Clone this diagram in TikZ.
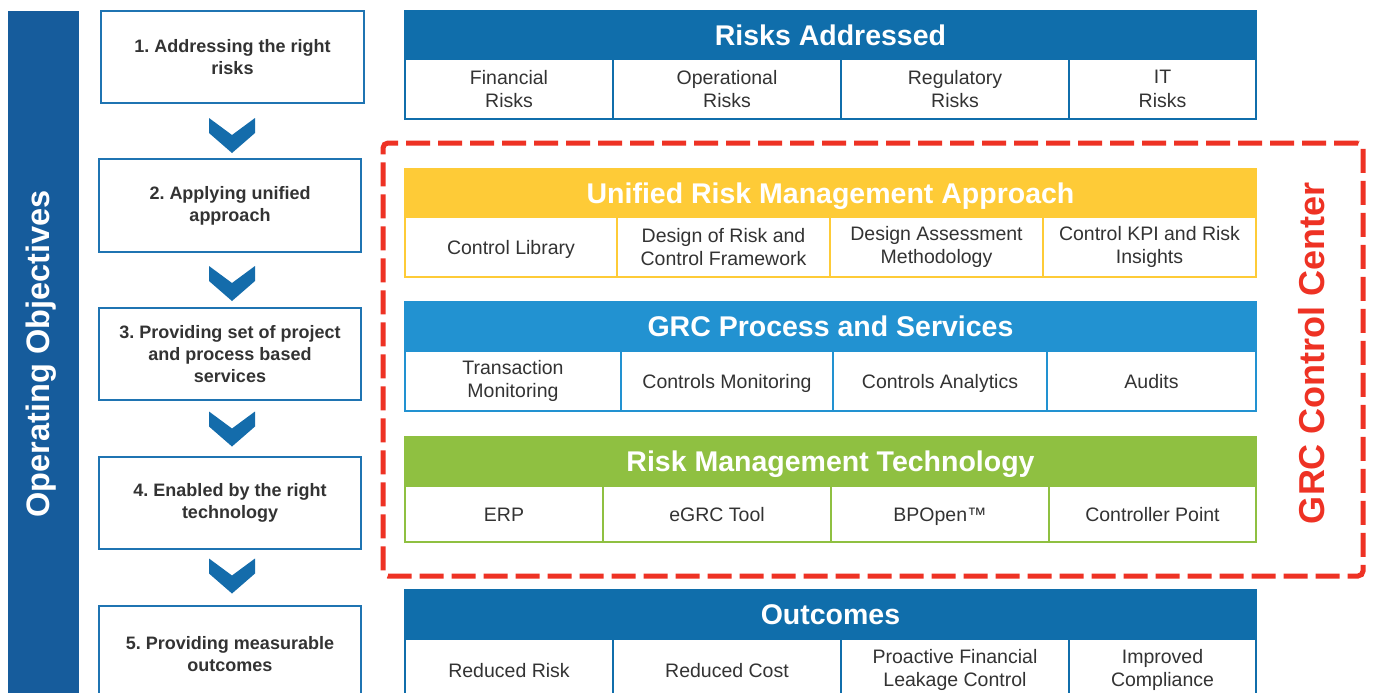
\documentclass[tikz,border=0pt]{standalone}
\usepackage{fontspec}
\setmainfont{Liberation Sans}
\usetikzlibrary{calc}
\frenchspacing
\definecolor{barblue}{HTML}{165C9C}
\definecolor{dblue}{HTML}{106EAB}
\definecolor{chevblue}{HTML}{146CAB}
\definecolor{uyellow}{HTML}{FECB37}
\definecolor{ublue}{HTML}{2292D1}
\definecolor{ugreen}{HTML}{8FC041}
\definecolor{grcred}{HTML}{EE3224}
\definecolor{txtgray}{HTML}{333333}
\definecolor{stepline}{HTML}{1F74B2}
\tikzset{
  hdr/.style={fill=#1, draw=#1, line width=2pt, minimum width=851, anchor=north west,
    inner sep=0pt, outer sep=0pt, text=white, font=\bfseries\fontsize{28.5}{30}\selectfont,
    text height=20.4pt, text depth=0pt},
  cell/.style={draw=#1, line width=2pt, fill=white, anchor=north west, inner sep=0pt, outer sep=0pt,
    align=center, text=txtgray, font=\fontsize{19.5}{23.5}\selectfont},
  one/.style={text height=14pt, text depth=0pt},
  outline/.style={draw=#1, line width=2.5pt},
  stepbox/.style={draw=stepline, line width=2pt, fill=white, align=center, inner sep=0pt, outer sep=0pt,
    text=txtgray, font=\bfseries\fontsize{18}{22}\selectfont},
  chev/.pic={\fill[chevblue] (-23,-17.5) -- (0,-0.5) -- (23,-17.5) -- (23,-2.5) -- (0,17.5) -- (-23,-2.5) -- cycle;}
}
\begin{document}
\begin{tikzpicture}[x=1pt,y=-1pt]
\useasboundingbox (0,0) rectangle (1373,693);
\clip (0,0) rectangle (1373,693);
\fill[white] (0,0) rectangle (1373,693);

% left bar
\node[fill=barblue, minimum width=71, minimum height=700, anchor=north west, inner sep=0pt, outer sep=0pt] (bar) at (8,11) {};
\node[rotate=90, text=white, font=\bfseries\fontsize{32.5}{36}\selectfont] (oplabel) at (41.5,354) {Operating Objectives};

% steps
\node[stepbox, minimum width=263, minimum height=92] (s1) at (232.5,57) {1. Addressing the right\\risks};
\node[stepbox, minimum width=262, minimum height=93] (s2) at (230,205.5) {2. Applying unified\\approach};
\node[stepbox, minimum width=262, minimum height=92] (s3) at (230,354) {3. Providing set of project\\and process based\\services};
\node[stepbox, minimum width=262, minimum height=92] (s4) at (230,503) {4. Enabled by the right\\technology};
\node[stepbox, minimum width=262, minimum height=96] (s5) at (230,654) {5. Providing measurable\\outcomes};
\pic at (232,135.5) {chev};
\pic at (232,283.5) {chev};
\pic at (232,429) {chev};
\pic at (232,576) {chev};

% Risks Addressed
\node[hdr=dblue, minimum height=48] (ra) at (405,11) {Risks Addressed};
\node[cell=dblue, minimum width=208, minimum height=60] (ra1) at (405,59) {Financial\\Risks};
\node[cell=dblue, minimum width=228, minimum height=60] (ra2) at (613,59) {Operational\\Risks};
\node[cell=dblue, minimum width=228, minimum height=60] (ra3) at (841,59) {Regulatory\\Risks};
\node[cell=dblue, minimum width=187, minimum height=60] (ra4) at (1069,59) {IT\\Risks};
\draw[outline=dblue] (ra.north west) rectangle (ra4.south east);

% GRC dashed frame
\node[draw=grcred, line width=5pt, dash pattern=on 24pt off 8pt, rounded corners=5pt,
  minimum width=980, minimum height=433, anchor=north west, inner sep=0pt, outer sep=0pt] (grc) at (383,143) {};
\node[rotate=90, text=grcred, font=\bfseries\fontsize{36}{40}\selectfont] (grclabel) at (1312,353) {GRC Control Center};

% Unified Risk Management Approach
\node[hdr=uyellow, minimum height=48] (ua) at (405,169) {Unified Risk Management Approach};
\node[cell=uyellow, one, minimum width=212, minimum height=60] (ua1) at (405,217) {Control Library};
\node[cell=uyellow, minimum width=213, minimum height=60] (ua2) at (617,217) {Design of Risk and\\Control Framework};
\node[cell=uyellow, minimum width=213, minimum height=60] (ua3) at (830,217) {Design Assessment\\Methodology};
\node[cell=uyellow, minimum width=213, minimum height=60] (ua4) at (1043,217) {Control KPI and Risk\\Insights};
\draw[outline=uyellow] (ua.north west) rectangle (ua4.south east);

% GRC Process and Services
\node[hdr=ublue, minimum height=49] (ps) at (405,302) {GRC Process and Services};
\node[cell=ublue, minimum width=216, minimum height=60] (ps1) at (405,351) {Transaction\\Monitoring};
\node[cell=ublue, one, minimum width=212, minimum height=60] (ps2) at (621,351) {Controls Monitoring};
\node[cell=ublue, one, minimum width=214, minimum height=60] (ps3) at (833,351) {Controls Analytics};
\node[cell=ublue, one, minimum width=209, minimum height=60] (ps4) at (1047,351) {Audits};
\draw[outline=ublue] (ps.north west) rectangle (ps4.south east);

% Risk Management Technology
\node[hdr=ugreen, minimum height=49] (rt) at (405,437) {Risk Management Technology};
\node[cell=ugreen, one, minimum width=198, minimum height=56] (rt1) at (405,486) {ERP};
\node[cell=ugreen, one, minimum width=228, minimum height=56] (rt2) at (603,486) {eGRC Tool};
\node[cell=ugreen, one, minimum width=218, minimum height=56] (rt3) at (831,486) {BPOpen™};
\node[cell=ugreen, one, minimum width=207, minimum height=56] (rt4) at (1049,486) {Controller Point};
\draw[outline=ugreen] (rt.north west) rectangle (rt4.south east);

% Outcomes
\node[hdr=dblue, minimum height=49] (oc) at (405,590) {Outcomes};
\node[cell=dblue, one, minimum width=208, minimum height=62] (oc1) at (405,639) {Reduced Risk};
\node[cell=dblue, one, minimum width=228, minimum height=62] (oc2) at (613,639) {Reduced Cost};
\node[cell=dblue, minimum width=228, minimum height=62] (oc3) at (841,639) {Proactive Financial\\Leakage Control};
\node[cell=dblue, minimum width=187, minimum height=62] (oc4) at (1069,639) {Improved\\Compliance};
\draw[outline=dblue] (oc.north west) rectangle (oc4.south east);
\end{tikzpicture}
\end{document}
